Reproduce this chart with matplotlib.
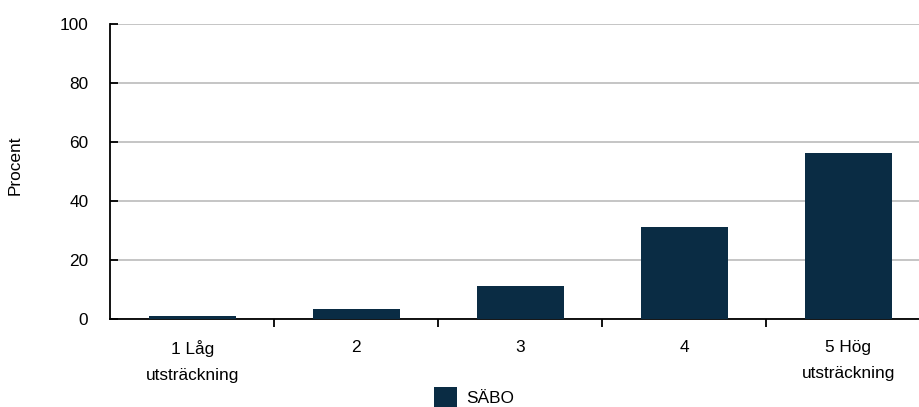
import matplotlib
matplotlib.use("Agg")
import matplotlib.pyplot as plt
import numpy as np
from matplotlib.patches import Patch

plt.rcParams['font.family'] = ['Liberation Sans', 'DejaVu Sans']

categories = ["1 Låg\nutsträckning", "2", "3", "4", "5 Hög\nutsträckning"]
values = [1.0, 3.4, 11.2, 31.1, 56.4]
series_name = "SÄBO"
yticks = [0, 20, 40, 60, 80, 100]

bar_color = "#0a2c44"
fs = 12.4

fig = plt.figure(figsize=(9.2, 4.07), dpi=100)
ax = fig.add_axes([0.1201, 0.2162, 0.8909, 0.7248])

x = np.arange(len(categories))
ax.bar(x, values, width=0.53, color=bar_color, zorder=3)

ax.set_xlim(-0.5, len(categories) - 0.5)
ax.set_ylim(0, 100)
ax.set_yticks(yticks)
ax.set_yticklabels([str(v) for v in yticks], fontsize=fs)
ax.yaxis.grid(True, color="#c0c0c0", linewidth=1.3, zorder=0)
ax.tick_params(axis='y', direction='in', length=6, width=1.3, pad=16, labelsize=fs)

ax.set_xticks(x)
ax.set_xticklabels(categories, fontsize=fs, linespacing=1.9)
ax.set_xticks(np.arange(len(categories) - 1) + 0.5, minor=True)
ax.tick_params(axis='x', which='major', length=0, pad=15)
ax.tick_params(axis='x', which='minor', direction='out', length=6, width=1.3)

for s in ['top', 'right']:
    ax.spines[s].set_visible(False)
ax.spines['left'].set_linewidth(1.3)
ax.spines['bottom'].set_linewidth(1.3)

ax.set_ylabel("Procent", fontsize=fs)
ax.yaxis.set_label_coords(-0.107, 0.52)

fig.legend(handles=[Patch(facecolor=bar_color, label=series_name)],
           loc='center', bbox_to_anchor=(0.515, 0.025), frameon=False,
           fontsize=fs, handlelength=1.35, handleheight=1.4, handletextpad=0.5)

fig.savefig("out.png", dpi=100)
